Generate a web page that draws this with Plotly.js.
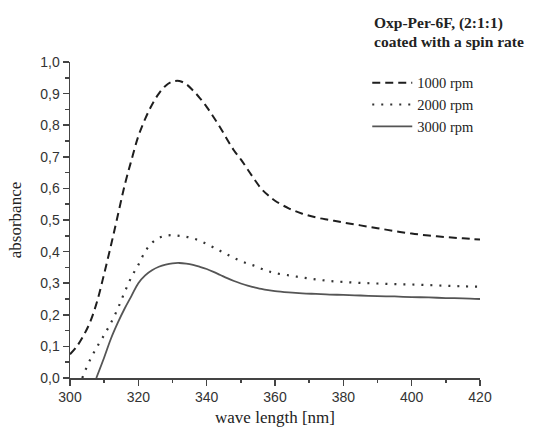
<!DOCTYPE html>
<html>
<head>
<meta charset="utf-8">
<script src="https://cdn.plot.ly/plotly-3.0.1.min.js"></script>
<style>html,body{margin:0;padding:0;background:#fff;}#chart{width:533px;height:427px;}</style>
</head>
<body>
<div id="chart"></div>
<script>
// Wavelength (nm) and absorbance values
const wl1000 = [300,302,304,306,308,310,312,314,316,318,320,322,324,326,328,330,332,334,336,338,340,342,344,346,348,350,352,354,356,358,360,364,368,372,376,380,385,390,395,400,405,410,415,420];
const abs1000 = [0.075,0.10,0.135,0.18,0.245,0.33,0.42,0.515,0.61,0.69,0.765,0.82,0.865,0.90,0.925,0.938,0.94,0.93,0.91,0.886,0.858,0.826,0.792,0.755,0.72,0.692,0.66,0.628,0.599,0.578,0.561,0.537,0.520,0.508,0.500,0.492,0.483,0.474,0.465,0.457,0.451,0.446,0.442,0.438];

const wl2000 = [303.6,304,306,308,310,312,314,316,318,320,322,324,326,328,330,332,334,336,338,340,342,344,346,348,350,352,354,356,358,360,364,368,372,376,380,385,390,395,400,405,410,415,420];
const abs2000 = [0.0,0.012,0.06,0.10,0.136,0.175,0.22,0.272,0.32,0.358,0.40,0.428,0.443,0.45,0.452,0.45,0.447,0.442,0.434,0.424,0.413,0.402,0.391,0.38,0.37,0.362,0.355,0.346,0.338,0.332,0.325,0.318,0.312,0.307,0.304,0.301,0.299,0.297,0.296,0.294,0.292,0.290,0.289];

const wl3000 = [307.7,310,312,314,316,318,320,322,324,326,328,330,332,334,336,338,340,342,344,346,348,350,352,354,356,358,360,364,368,372,376,380,385,390,395,400,405,410,415,420];
const abs3000 = [0.0,0.065,0.125,0.175,0.22,0.26,0.30,0.325,0.341,0.352,0.359,0.363,0.364,0.362,0.358,0.352,0.345,0.336,0.326,0.316,0.307,0.299,0.292,0.287,0.282,0.278,0.275,0.271,0.268,0.266,0.264,0.263,0.261,0.259,0.258,0.256,0.255,0.253,0.252,0.250];

const seriesNames = ['1000 rpm','2000 rpm','3000 rpm'];
const titleLines = ['<b>Oxp-Per-6F, (2:1:1)</b>', '<b>coated with a spin rate</b>'];
const xTitle = 'wave length [nm]';
const yTitle = 'absorbance';

const serif = 'Liberation Serif, Times New Roman, serif';
const sans = 'Liberation Sans, Arial, sans-serif';

const traces = [
  {x: wl1000, y: abs1000, name: seriesNames[0], mode: 'lines', line: {color: '#1e1e1e', width: 2, dash: '8px,5px', shape: 'spline'}},
  {x: wl2000, y: abs2000, name: seriesNames[1], mode: 'lines', line: {color: '#333333', width: 2.2, dash: '2px,7px', shape: 'spline'}},
  {x: wl3000, y: abs3000, name: seriesNames[2], mode: 'lines', line: {color: '#555555', width: 1.8, shape: 'spline'}}
];

const axisCommon = {
  showline: true, linecolor: '#444', linewidth: 1.5,
  ticks: 'outside', ticklen: 6, tickwidth: 1.5, tickcolor: '#444',
  showgrid: false, zeroline: false,
  tickfont: {family: sans, size: 14, color: '#333'}
};

const layout = {
  width: 533, height: 427,
  margin: {l: 70, r: 53, t: 62, b: 49},
  paper_bgcolor: '#fff', plot_bgcolor: '#fff',
  separators: ',.',
  showlegend: true,
  legend: {
    x: 0.725, y: 0.985, xanchor: 'left', yanchor: 'top',
    font: {family: serif, size: 14.5, color: '#222'},
    bgcolor: 'rgba(0,0,0,0)', tracegroupgap: 0, itemwidth: 40
  },
  xaxis: Object.assign({}, axisCommon, {
    range: [300, 420], dtick: 20, tick0: 300,
    minor: {dtick: 10, ticks: 'outside', ticklen: 3.5, tickwidth: 1.5, tickcolor: '#444'},
    title: {text: xTitle, font: {family: serif, size: 17, color: '#222'}, standoff: 15}
  }),
  yaxis: Object.assign({}, axisCommon, {
    range: [0, 1.0], dtick: 0.1, tick0: 0, tickformat: '.1f',
    minor: {dtick: 0.05, ticks: 'outside', ticklen: 3.5, tickwidth: 1.5, tickcolor: '#444'},
    title: {text: yTitle, font: {family: serif, size: 17, color: '#222'}, standoff: 14}
  }),
  annotations: titleLines.map((t, i) => ({
    text: t, xref: 'paper', yref: 'paper',
    x: 0.737, y: [1.123, 1.066][i], xanchor: 'left', yanchor: 'middle', align: 'left',
    showarrow: false, font: {family: serif, size: 15.5, color: '#222'}
  }))
};

Plotly.newPlot('chart', traces, layout, {displayModeBar: false, staticPlot: true});
</script>
</body>
</html>
